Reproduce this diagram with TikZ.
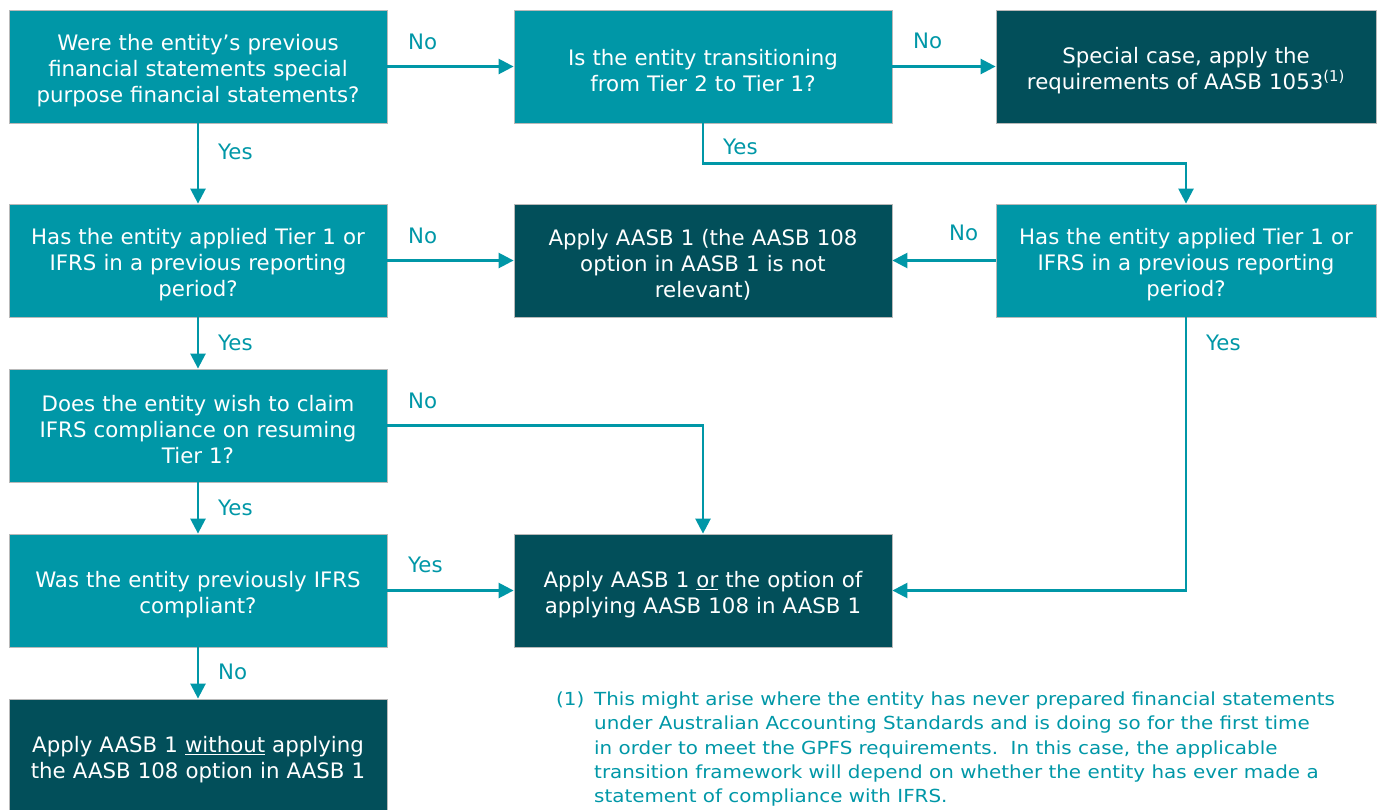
\documentclass[tikz,border=0pt]{standalone}
\usepackage{fontspec}
\setmainfont{DejaVu Sans}
\newfontfamily\fnfont[FakeStretch=1.105]{DejaVu Sans}
\usetikzlibrary{arrows.meta}
\definecolor{teal1}{RGB}{0,151,167}
\definecolor{dark1}{RGB}{2,79,90}
\definecolor{edge1}{RGB}{185,185,185}
\begin{document}
\begin{tikzpicture}[x=1pt,y=-1pt,
  qbox/.style={rectangle, fill=teal1, draw=edge1, line width=0.8pt, text=white,
    minimum width=378pt, minimum height=113pt, text width=372pt, align=center,
    font=\fontsize{21.3}{26}\selectfont, inner sep=0pt,
    execute at begin node={\rule{0pt}{24pt}}},
  abox/.style={qbox, fill=dark1},
  arr/.style={draw=teal1, line width=2.5pt, -{Triangle[length=15pt,width=15pt]}},
  lbl/.style={text=teal1, font=\fontsize{21.3}{24}\selectfont, anchor=west, inner sep=0pt}]
\useasboundingbox (0,0) rectangle (1380,809);
\clip (0,0) rectangle (1380,809);

% column centres 198, 703, 1186 ; row centres 66.5, 260.5, 425.5, 590.5, 755.5
\node[qbox] (q1) at (198,66.5) {Were the entity’s previous\\financial statements special\\purpose financial statements?};
\node[qbox] (q2) at (703,66.5) {Is the entity transitioning\\from Tier 2 to Tier 1?};
\node[abox, minimum width=380pt] (sc) at (1186,66.5) {Special case, apply the\\requirements of AASB 1053\textsuperscript{(1)}};

\node[qbox] (q3) at (198,260.5) {Has the entity applied Tier 1 or\\IFRS in a previous reporting\\period?};
\node[abox] (a1) at (703,260.5) {Apply AASB 1 (the AASB 108\\option in AASB 1 is not\\relevant)};
\node[qbox, minimum width=380pt] (q4) at (1186,260.5) {Has the entity applied Tier 1 or\\IFRS in a previous reporting\\period?};

\node[qbox] (q5) at (198,425.5) {Does the entity wish to claim\\IFRS compliance on resuming\\Tier 1?};

\node[qbox] (q6) at (198,590.5) {Was the entity previously IFRS\\compliant?};
\node[abox] (a2) at (703,590.5) {Apply AASB 1 \underline{or} the option of\\applying AASB 108 in AASB 1};

\node[abox] (a3) at (198,755.5) {Apply AASB 1 \underline{without} applying\\the AASB 108 option in AASB 1};

% connectors
\draw[arr] (q1.east) -- (q2.west);
\draw[arr] (q2.east) -- (sc.west);
\draw[arr] (q2.south) -- ++(0,40) -| (q4.north);
\draw[arr] (q1.south) -- (q3.north);
\draw[arr] (q3.east) -- (a1.west);
\draw[arr] (q4.west) -- (a1.east);
\draw[arr] (q4.south) |- (a2.east);
\draw[arr] (q3.south) -- (q5.north);
\draw[arr] (q5.east) -| (a2.north);
\draw[arr] (q5.south) -- (q6.north);
\draw[arr] (q6.east) -- (a2.west);
\draw[arr] (q6.south) -- (a3.north);

% labels
\node[lbl] (l1) at (408,42) {No};
\node[lbl] (l2) at (913,41) {No};
\node[lbl] (l3) at (723,147) {Yes};
\node[lbl] (l4) at (218,152) {Yes};
\node[lbl] (l5) at (408,236) {No};
\node[lbl] (l6) at (949,233) {No};
\node[lbl] (l7) at (1206,343) {Yes};
\node[lbl] (l8) at (218,343) {Yes};
\node[lbl] (l9) at (408,401) {No};
\node[lbl] (l10) at (218,508) {Yes};
\node[lbl] (l11) at (408,565) {Yes};
\node[lbl] (l12) at (218,672) {No};

% footnote
\node[anchor=north west, inner sep=0pt, text=teal1, align=left,
  font=\fnfont\fontsize{18}{24.1}\selectfont] (fnum) at (556,692) {(1)};
\node[anchor=north west, inner sep=0pt, text=teal1, align=left,
  font=\fnfont\fontsize{18}{24.1}\selectfont] (fn) at (594,692)
  {This might arise where the entity has never prepared financial statements\\
   under Australian Accounting Standards and is doing so for the first time\\
   in order to meet the GPFS requirements.\ \ In this case, the applicable\\
   transition framework will depend on whether the entity has ever made a\\
   statement of compliance with IFRS.};
\end{tikzpicture}
\end{document}
